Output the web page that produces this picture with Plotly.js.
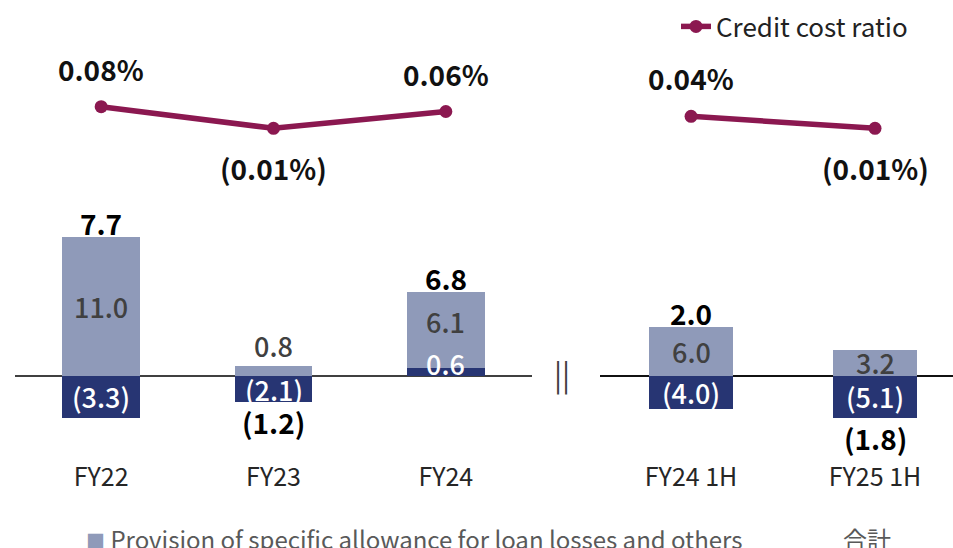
<!DOCTYPE html>
<html>
<head>
<meta charset="utf-8">
<script src="https://cdn.plot.ly/plotly-3.0.1.min.js"></script>
<style>
  html, body { margin: 0; padding: 0; background: #fff; }
  #chart { width: 953px; height: 548px; }
</style>
</head>
<body>
<div id="chart"></div>
<script>
// full years
const years = ['FY22', 'FY23', 'FY24'];
const specificYears = [11.0, 0.8, 6.1];
const generalYears = [-3.3, -2.1, 0.6];
const totalYears = [7.7, -1.2, 6.8];
const ratioYears = [0.08, -0.01, 0.06];

// half years
const halves = ['FY24 1H', 'FY25 1H'];
const specificHalves = [6.0, 3.2];
const generalHalves = [-4.0, -5.1];
const totalHalves = [2.0, -1.8];
const ratioHalves = [0.04, -0.01];

const FONT = '"Noto Sans CJK JP", "Noto Sans", sans-serif';
const LIGHT = '#8f9ab9';
const DARK = '#273573';
const WINE = '#8b1850';

let fmt = v => v < 0 ? '(' + (-v).toFixed(1) + ')' : v.toFixed(1);
let fmtPct = v => v < 0 ? '(' + (-v).toFixed(2) + '%)' : v.toFixed(2) + '%';

function barPair(cats, spec, gen, xa, ya, w) {
    // dark first so it sits at the base of the stack
    let dark = {
        type: 'bar', x: cats, y: gen, xaxis: xa, yaxis: ya, width: w,
        marker: { color: DARK }, showlegend: false, hoverinfo: 'skip'
    };
    let light = {
        type: 'bar', x: cats, y: spec, xaxis: xa, yaxis: ya, width: w,
        marker: { color: LIGHT }, showlegend: false, hoverinfo: 'skip'
    };
    return [dark, light];
}

function ratioLine(cats, vals, xa, ya, legend) {
    return {
        type: 'scatter', mode: 'lines+markers', x: cats, y: vals, xaxis: xa, yaxis: ya,
        name: 'Credit cost ratio', showlegend: legend,
        line: { color: WINE, width: 5.5 },
        marker: { color: WINE, size: 13 },
        hoverinfo: 'skip'
    };
}

let traces = [
    ...barPair(years, specificYears, generalYears, 'x', 'y', 0.45),
    ...barPair(halves, specificHalves, generalHalves, 'x2', 'y2', 0.46),
    ratioLine(years, ratioYears, 'x', 'y3', true),
    ratioLine(halves, ratioHalves, 'x2', 'y4', false)
];

let annotations = [];

// segment labels
function addSegments(cats, spec, gen, xr, yr) {
    cats.forEach((c, i) => {
        let g = gen[i], s = spec[i];
        let smallDark = Math.abs(g) < 1;
        annotations.push({
            x: c, y: smallDark ? 0 : g / 2, xref: xr, yref: yr, showarrow: false,
            text: fmt(g), yshift: smallDark ? (g > 0 ? 13 : -13) : 0,
            font: { family: FONT, size: 27, color: '#ffffff', weight: 500 }
        });
        let base = Math.max(g, 0);
        let small = Math.abs(s) < 1;
        annotations.push({
            x: c, y: small ? base + s : base + s / 2, xref: xr, yref: yr, showarrow: false,
            text: fmt(s), yshift: small ? 20 : (smallDark && g > 0 ? 9 : 0),
            font: { family: FONT, size: 27, color: '#404040', weight: 500 }
        });
    });
}

// totals and ratio labels
function addTotals(cats, spec, gen, tot, xr, yr) {
    cats.forEach((c, i) => {
        let up = tot[i] >= 0;
        let edge = up ? Math.max(spec[i], 0) + Math.max(gen[i], 0)
                      : Math.min(spec[i], 0) + Math.min(gen[i], 0);
        annotations.push({
            x: c, y: edge, xref: xr, yref: yr, showarrow: false,
            text: fmt(tot[i]), yshift: up ? 14 : -20,
            font: { family: FONT, size: 28, color: '#000', weight: 700 }
        });
    });
}
function addRatios(cats, vals, xr, yr) {
    cats.forEach((c, i) => {
        let up = vals[i] >= 0;
        annotations.push({
            x: c, y: vals[i], xref: xr, yref: yr, showarrow: false,
            text: fmtPct(vals[i]), yshift: up ? 38 : -40,
            font: { family: FONT, size: 28, color: '#111', weight: 700 }
        });
    });
}
addSegments(years, specificYears, generalYears, 'x', 'y');
addSegments(halves, specificHalves, generalHalves, 'x2', 'y2');
addTotals(years, specificYears, generalYears, totalYears, 'x', 'y');
addTotals(halves, specificHalves, generalHalves, totalHalves, 'x2', 'y2');
addRatios(years, ratioYears, 'x', 'y3');
addRatios(halves, ratioHalves, 'x2', 'y4');

// axis break and bottom legend
annotations.push({
    x: 562 / 953, y: 0.275, xref: 'paper', yref: 'paper', showarrow: false,
    xanchor: 'center',
    text: '||', font: { family: FONT, size: 30, color: '#404040' }
});
annotations.push({
    x: 84 / 953, y: 0, xref: 'paper', yref: 'paper', showarrow: false,
    xanchor: 'left', yanchor: 'middle', yshift: 10,
    text: '<span style="color:' + LIGHT + ';font-size:19px">■</span> Provision of specific allowance for loan losses and others',
    font: { family: FONT, size: 24, color: '#595959' }
});
annotations.push({
    x: 867 / 953, y: 0, xref: 'paper', yref: 'paper', showarrow: false,
    xanchor: 'center', yanchor: 'middle', yshift: 10,
    text: '合計', font: { family: FONT, size: 24, color: '#595959' }
});

let hidden = { visible: true, showgrid: false, showticklabels: false, zeroline: false, fixedrange: true };
let tickFont = { family: FONT, size: 25, color: '#262626' };

let layout = {
    width: 953, height: 548,
    margin: { l: 0, r: 0, t: 0, b: 0 },
    paper_bgcolor: '#fff', plot_bgcolor: 'rgba(0,0,0,0)',
    barmode: 'relative', bargap: 0,
    showlegend: true,
    legend: {
        x: 676 / 953, y: 1 - 3 / 548, xanchor: 'left', yanchor: 'top',
        bgcolor: 'rgba(0,0,0,0)',
        font: { family: FONT, size: 26, color: '#222' }
    },
    xaxis: {
        domain: [15 / 953, 532 / 953], range: [-0.5, 2.5],
        anchor: 'free', position: 0.16,
        showline: false, ticks: '', showgrid: false, fixedrange: true,
        tickfont: tickFont
    },
    xaxis2: {
        domain: [600 / 953, 1], range: [-0.495, 1.424],
        anchor: 'free', position: 0.16,
        showline: false, ticks: '', showgrid: false, fixedrange: true,
        tickfont: tickFont
    },
    yaxis: Object.assign({}, hidden, {
        domain: [0, 1], anchor: 'x', range: [-13.65, 29.84],
        zeroline: true, zerolinecolor: '#404040', zerolinewidth: 1.3
    }),
    yaxis2: Object.assign({}, hidden, {
        domain: [0, 1], anchor: 'x2', range: [-20.98, 45.85],
        zeroline: true, zerolinecolor: '#111', zerolinewidth: 1.3
    }),
    yaxis3: Object.assign({}, hidden, { overlaying: 'y', anchor: 'x', range: [-1.7588, 0.5246] }),
    yaxis4: Object.assign({}, hidden, { overlaying: 'y2', anchor: 'x2', range: [-1.7588, 0.5246] }),
    annotations: annotations
};

Plotly.newPlot('chart', traces, layout, { displayModeBar: false, staticPlot: true });
</script>
</body>
</html>
